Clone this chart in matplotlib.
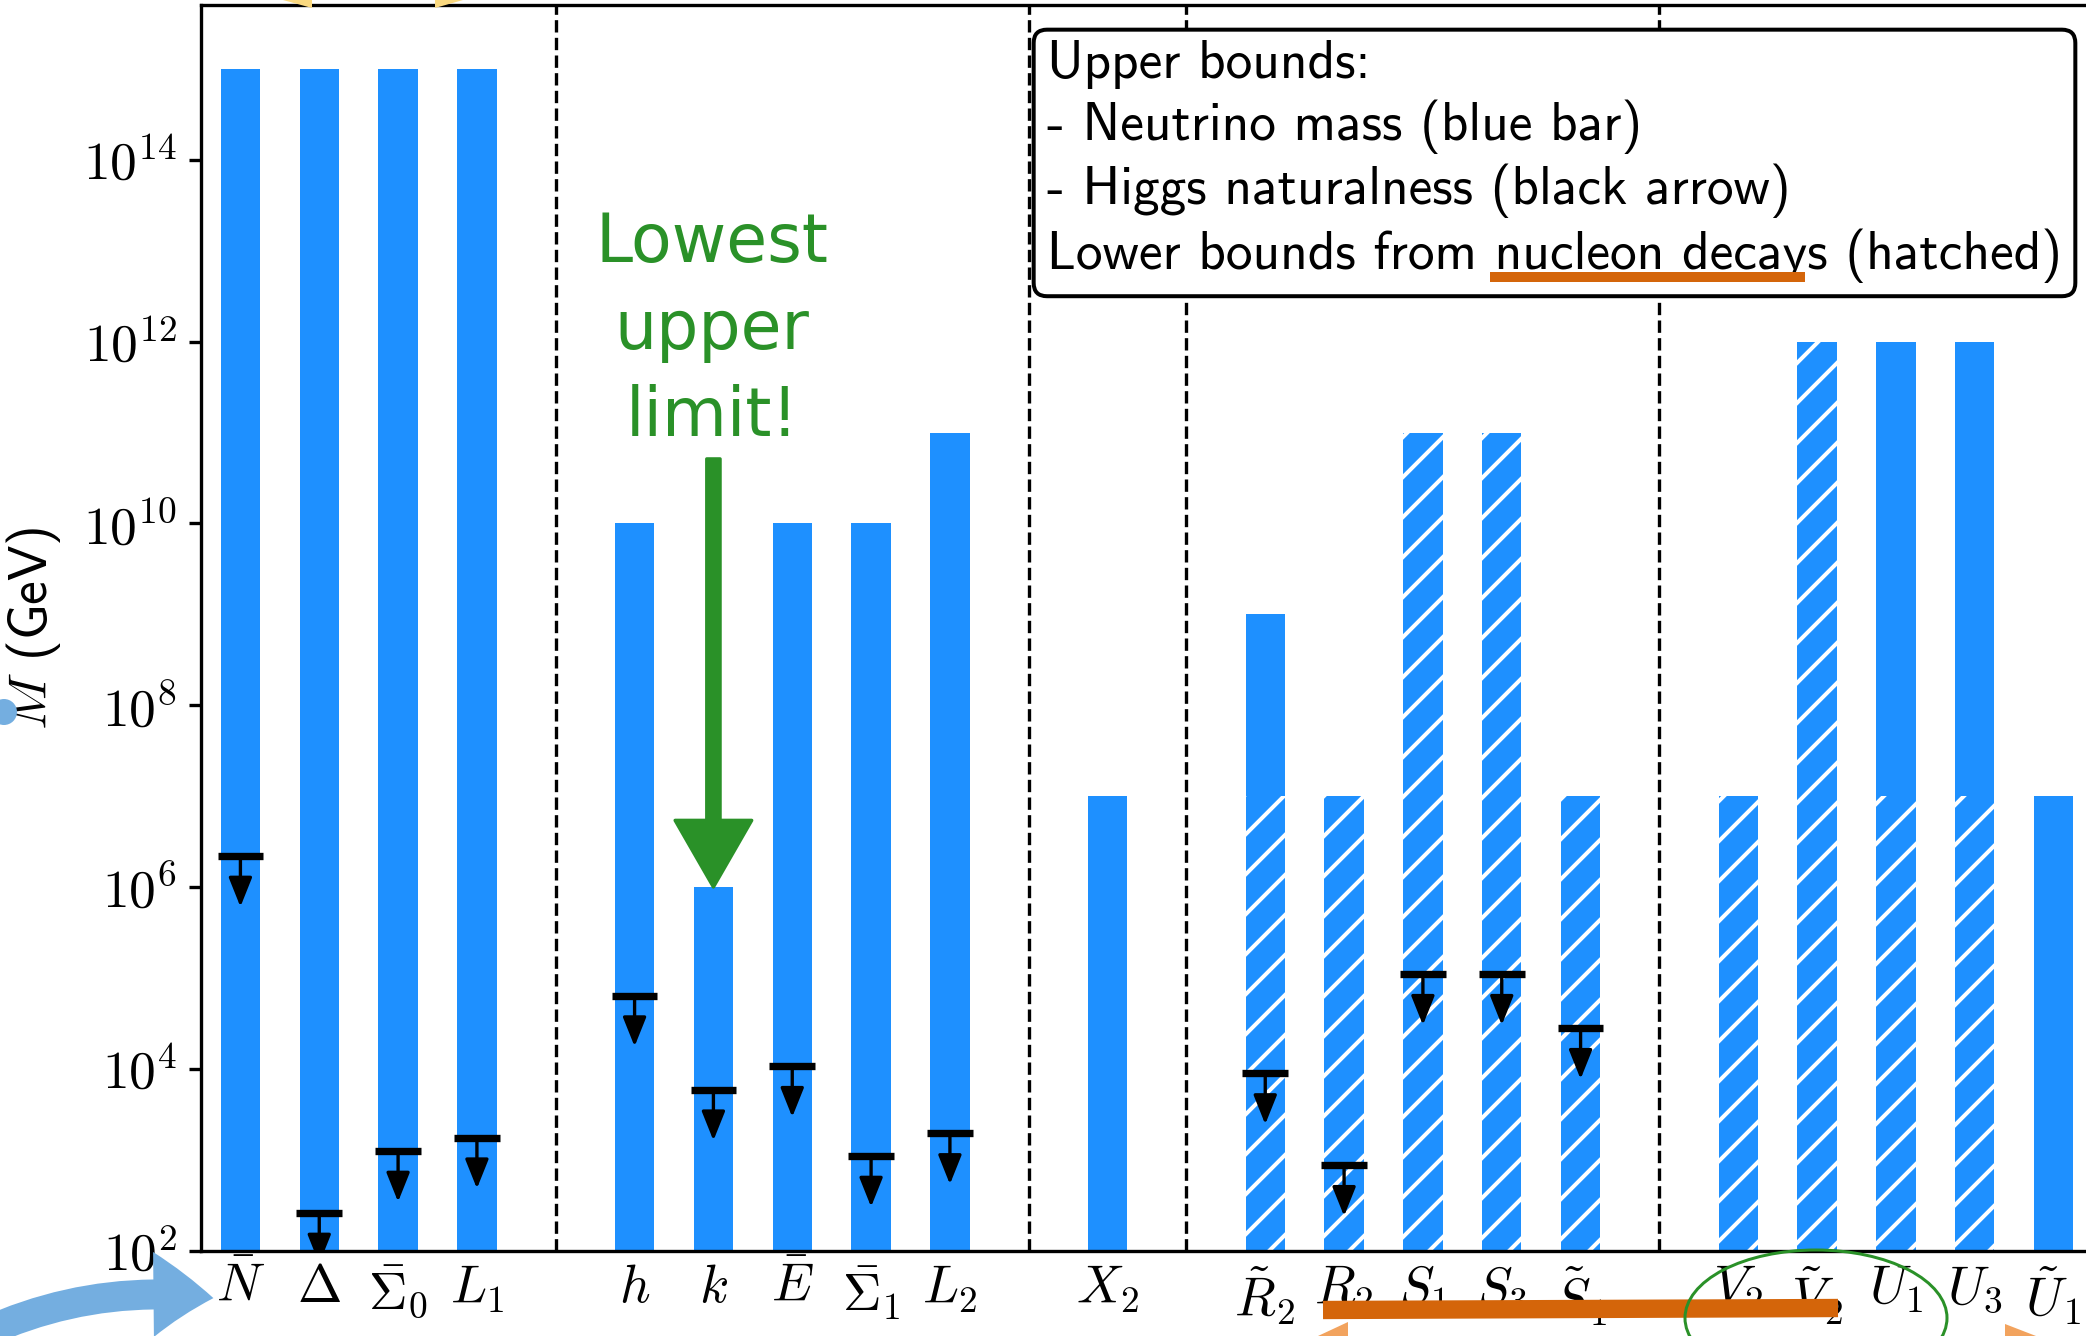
import numpy as np
import matplotlib.pyplot as plt
from matplotlib.patches import FancyArrowPatch, Ellipse, Polygon
from matplotlib.ticker import FuncFormatter

plt.rcParams['mathtext.fontset'] = 'cm'
plt.rcParams['font.family'] = ['cmss10', 'DejaVu Sans']
plt.rcParams['axes.unicode_minus'] = False
plt.rcParams['hatch.linewidth'] = 1.2

# field content, grouped by the dashed separators
names = [r"$\bar{N}$", r"$\Delta$", r"$\bar{\Sigma}_0$", r"$L_1$",
         r"$h$", r"$k$", r"$\bar{E}$", r"$\bar{\Sigma}_1$", r"$L_2$",
         r"$X_2$",
         r"$\tilde{R}_2$", r"$R_2$", r"$S_1$", r"$S_3$", r"$\tilde{S}_1$",
         r"$V_2$", r"$\tilde{V}_2$", r"$U_1$", r"$U_3$", r"$\tilde{U}_1$"]
group_sizes = [4, 5, 1, 5, 5]

nan = np.nan
# upper bound from neutrino mass (GeV)
m_nu = [1e15, 1e15, 1e15, 1e15,
        1e10, 1e6, 1e10, 1e10, 1e11,
        1e7,
        1e9, 1e7, 1e11, 1e11, 1e7,
        1e7, 1e12, 1e12, 1e12, 1e7]
# lower bound from nucleon decays (GeV)
m_decay = [nan, nan, nan, nan,
           nan, nan, nan, nan, nan,
           nan,
           1e7, 1e7, 1e11, 1e11, 1e7,
           1e7, 1e12, 1e7, 1e7, nan]
# upper bound from Higgs naturalness (GeV)
m_higgs = [2.2e6, 2.6e2, 1.25e3, 1.75e3,
           6.4e4, 5.9e3, 1.07e4, 1.1e3, 1.95e3,
           nan,
           8.9e3, 8.7e2, 1.1e5, 1.1e5, 2.8e4,
           nan, nan, nan, nan, nan]

# x positions with one empty slot between groups
pos = []
seps = []
start = 0
for n in group_sizes:
    pos += list(range(start, start + n))
    seps.append(start + n)
    start += n + 1
seps = seps[:-1]
pos = np.array(pos)

W, H, DPI = 2086, 1336, 240
fig = plt.figure(figsize=(W / DPI, H / DPI), dpi=DPI)
ax = fig.add_axes([201 / W, 85.4 / H, 1892 / W, 1245.3 / H])

blue = '#1E90FF'
ax.bar(pos, m_nu, width=0.5, color=blue, edgecolor='white', linewidth=0)
ax.bar(pos, m_decay, width=0.5, color=blue, edgecolor='white', linewidth=0, hatch='//')

for s in seps:
    ax.axvline(s, color='k', ls='--', lw=1.0)

# Higgs naturalness limits: cap plus downward arrow
for x, v in zip(pos, m_higgs):
    if np.isnan(v):
        continue
    ax.plot([x - 0.29, x + 0.29], [v, v], color='k', lw=2.2, solid_capstyle='butt')
    arr = FancyArrowPatch((x, v), (x, v / 10 ** 0.56),
                          arrowstyle='-|>,head_length=0.75,head_width=0.3',
                          mutation_scale=10, lw=1.0, color='k',
                          shrinkA=0, shrinkB=0)
    ax.add_patch(arr)

ax.set_yscale('log')
ax.set_ylim(1e2, 10 ** 15.7)
ax.set_xlim(-0.5, 23.5)
ax.set_yticks([1e2, 1e4, 1e6, 1e8, 1e10, 1e12, 1e14])
ax.yaxis.set_major_formatter(FuncFormatter(lambda v, p: r"$10^{%d}$" % round(np.log10(v))))
ax.minorticks_off()
ax.set_xticks(pos)
ax.set_xticklabels(names, fontsize=16)
ax.tick_params(axis='x', length=0, pad=4)
ax.tick_params(axis='y', labelsize=16, length=3.6, width=1.0, pad=3.6)
for sp in ax.spines.values():
    sp.set_linewidth(1.0)
ax.set_ylabel(r"$M$ (GeV)", fontsize=16, labelpad=6)

fig.text(1047 / W, 1 - 40 / H,
         "Upper bounds:\n- Neutrino mass (blue bar)\n- Higgs naturalness (black arrow)\n"
         "Lower bounds from nucleon decays (hatched)",
         fontsize=16, ha='left', va='top', linespacing=1.25,
         bbox=dict(boxstyle='round,pad=0.25', fc='white', ec='k', lw=1.2))

# hand-drawn highlights
green = '#2A9128'
orange = '#D4650A'
fig.text(712 / W, 1 - 210 / H, "Lowest\nupper\nlimit!", color=green, fontsize=20,
         family='DejaVu Sans', ha='center', va='top', linespacing=1.4)
ax.add_patch(FancyArrowPatch((6, 10 ** 10.71), (6, 1e6),
                             arrowstyle='simple,head_length=1.0,head_width=1.15,tail_width=0.2',
                             mutation_scale=20, color=green, shrinkA=0, shrinkB=0,
                             clip_on=False))
fig.add_artist(plt.Line2D([1323 / W, 1838 / W], [1 - 1310 / H, 1 - 1308 / H],
                          color=orange, lw=5.5, solid_capstyle='butt', zorder=10))
fig.add_artist(plt.Line2D([1490 / W, 1805 / W], [1 - 277 / H, 1 - 277 / H],
                          color=orange, lw=3.0, solid_capstyle='butt', zorder=10))
fig.add_artist(Ellipse((1816 / W, 1 - 1318 / H), 262 / W, 136 / H,
                       fill=False, ec=green, lw=0.9, zorder=10))
fig.add_artist(FancyArrowPatch((-0.01, 1 - 1335 / H), (220 / W, 1 - 1299 / H),
                               connectionstyle='arc3,rad=-0.15',
                               arrowstyle='simple,head_length=0.6,head_width=0.85,tail_width=0.3',
                               mutation_scale=30, color='#74AEE0', lw=0, zorder=10))
fig.add_artist(Ellipse((4 / W, 1 - 712 / H), 26 / W, 26 / H, fc='#74AEE0', ec='none', zorder=10))

# tips of neighbouring arrows poking in at the edges
def px_poly(pts, color):
    fig.add_artist(Polygon([(x / W, 1 - y / H) for x, y in pts], closed=True,
                           fc=color, ec='none', zorder=10))

px_poly([(283, 0), (312, 0), (312, 8)], '#FAD980')
px_poly([(435, 0), (463, 0), (435, 8)], '#FAD980')
px_poly([(1318, 1336), (1348, 1322), (1348, 1336)], '#F2A35E')
px_poly([(2005, 1336), (2005, 1324), (2036, 1336)], '#F2A35E')

fig.savefig('out.png', dpi=DPI)
